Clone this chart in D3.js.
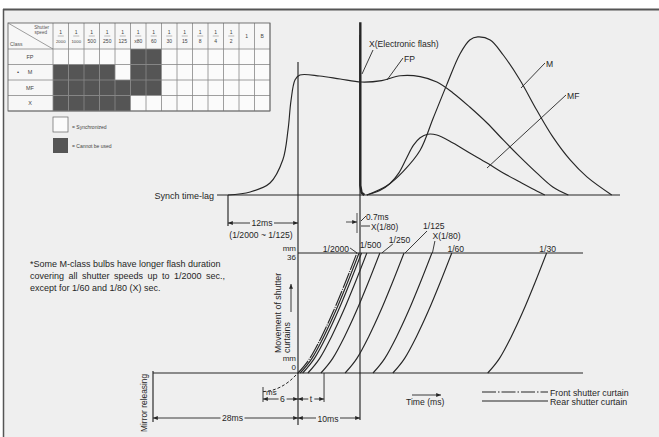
<!DOCTYPE html>
<html>
<head>
<meta charset="utf-8">
<script src="https://cdn.jsdelivr.net/npm/d3@7"></script>
<style>
html, body { margin: 0; padding: 0; background: #fff; }
svg { display: block; font-family: "Liberation Sans", Arial, Helvetica, sans-serif; }
</style>
</head>
<body>
<div id="chart"></div>
<script>
const width = 659;
const height = 437;
const ink = "#262626";
const paper = "#efefef";

// table: shutter speeds x flash class
const speeds = ["2000", "1000", "500", "250", "125", "X80", "60", "30", "15", "8", "4", "2", "1", "B"];
const classes = ["FP", "M", "MF", "X"];
const blocked = [
    [0, 0, 0, 0, 0, 1, 1, 0, 0, 0, 0, 0, 0, 0],
    [1, 1, 1, 1, 0, 1, 1, 0, 0, 0, 0, 0, 0, 0],
    [1, 1, 1, 1, 1, 1, 1, 0, 0, 0, 0, 0, 0, 0],
    [1, 1, 1, 1, 1, 0, 0, 0, 0, 0, 0, 0, 0, 0]
];

// flash curves: [time ms, relative intensity]
const fpCurve = [[-12, 0], [-8.2, 1.9], [-4.8, 7.5], [-2.6, 22], [-1.7, 41], [-1.2, 59], [-0.5, 72], [0.3, 75],
    [3.5, 74.4], [6.8, 72.5], [10.2, 70.6], [13.5, 71.5], [16.5, 74.5], [19.7, 74], [22.4, 70.6], [25, 63.8],
    [27.7, 55], [30.5, 45], [33.1, 34.4], [35.8, 23.8], [38.5, 13.8], [41.1, 5], [43.6, 0]];
const mCurve = [[11.1, 0], [14.4, 6], [16.9, 14.5], [19.7, 28], [21.8, 48], [24, 69], [26.1, 88], [27.7, 96.9],
    [29, 98.8], [31, 96.9], [33.1, 87.5], [35.8, 71.9], [38.5, 53.1], [41.1, 36.3], [43.9, 21.9], [46.6, 11.3], [50.6, 0]];
const mfCurve = [[11.1, 0], [13.2, 2.8], [14.8, 7], [16.3, 14], [17.5, 23], [18.6, 31], [19.7, 35.8], [20.9, 38],
    [22.4, 37.5], [25, 32.5], [27.7, 26.3], [30.5, 20], [33.1, 13.8], [35.8, 8.1], [38.5, 2.5], [39.8, 0]];
const xCurve = [[10.05, 108], [10.05, 6], [10.25, 1.5], [10.7, 0]];

// curtain travel: start of each curtain (ms) and travel profile
const curtainLabels = ["Front", "1/2000", "1/1000", "1/500", "1/250", "1/125", "X(1/80)", "1/60", "1/30"];
const curtainStart = [0, 0.35, 0.75, 1.6, 3.7, 7.6, 12.1, 15.3, 30.6];
const travelMs = [0, 1.9, 3.8, 5.7, 7.6, 9.5];
const travelMm = [0, 4.4, 10.9, 18.5, 27, 36];
const mirrorCurve = [[-6, -5.6], [-4.5, -5.2], [-3, -4.2], [-1.5, -2.5], [0, 0]];
const tMarker = 4.2;

const svg = d3.select("#chart")
    .append("svg")
    .attr("width", width)
    .attr("height", height);

const defs = svg.append("defs");
defs.append("marker")
    .attr("id", "arr")
    .attr("viewBox", "0 0 6 5")
    .attr("refX", 6).attr("refY", 2.5)
    .attr("markerWidth", 5).attr("markerHeight", 4)
    .attr("markerUnits", "userSpaceOnUse")
    .attr("orient", "auto-start-reverse")
    .append("path").attr("d", "M0,0L6,2.5L0,5z").attr("fill", ink);

// paper + scan frame
svg.append("rect").attr("x", 4).attr("y", 10).attr("width", width - 4).attr("height", height - 10).attr("fill", paper);
svg.append("line").attr("x1", 3).attr("x2", width).attr("y1", 9.5).attr("y2", 9.5).attr("stroke", "#555").attr("stroke-width", 2);
svg.append("line").attr("x1", 3.5).attr("x2", 3.5).attr("y1", 9).attr("y2", height).attr("stroke", "#555").attr("stroke-width", 1.5);

// scales (schematic time axis: left part compressed)
const x = d3.scaleLinear().domain([-28, -12, 0, 10]).range([153, 228, 298, 360]);
const yFlash = d3.scaleLinear().domain([0, 100]).range([195, 35]);
const yMm = d3.scaleLinear().domain([0, 36]).range([373, 253]);

const g = svg.append("g").attr("stroke", ink).attr("fill", "none").attr("stroke-width", 1.15);

function hline(x1, x2, y, w) {
    return g.append("line").attr("x1", x1).attr("x2", x2).attr("y1", y).attr("y2", y).attr("stroke-width", w || 1.15);
}
function vline(xx, y1, y2, w) {
    return g.append("line").attr("x1", xx).attr("x2", xx).attr("y1", y1).attr("y2", y2).attr("stroke-width", w || 1.15);
}
function seg(x1, y1, x2, y2) {
    g.append("line").attr("x1", x1).attr("y1", y1).attr("x2", x2).attr("y2", y2).attr("stroke-width", 0.9);
}
function dim(x1, x2, y) {
    g.append("line").attr("x1", x1).attr("x2", x2).attr("y1", y).attr("y2", y).attr("stroke-width", 0.9)
        .attr("marker-start", "url(#arr)").attr("marker-end", "url(#arr)");
}
function txt(s, tx, ty, size, anchor, gap) {
    const t = svg.append("text").attr("x", tx).attr("y", ty)
        .attr("font-size", size).attr("fill", ink)
        .attr("text-anchor", anchor || "start").text(s);
    if (gap) {
        const b = t.node().getBBox();
        svg.insert("rect", () => t.node())
            .attr("x", b.x - 1.5).attr("y", b.y + 1).attr("width", b.width + 3).attr("height", b.height - 2)
            .attr("fill", paper);
    }
    return t;
}

// ---------- table ----------
const tx0 = 8, colX0 = 53, colW = 15.5, ty0 = 23, headH = 26, rowH = 15.5;
const tab = svg.append("g");
tab.append("rect").attr("x", tx0).attr("y", ty0).attr("width", colX0 - tx0).attr("height", headH + 4 * rowH).attr("fill", "#f7f7f7");
tab.append("rect").attr("x", colX0).attr("y", ty0).attr("width", speeds.length * colW).attr("height", headH).attr("fill", "#f7f7f7");
blocked.forEach((row, r) => {
    row.forEach((b, c) => {
        tab.append("rect")
            .attr("x", colX0 + c * colW).attr("y", ty0 + headH + r * rowH)
            .attr("width", colW).attr("height", rowH)
            .attr("fill", b ? "#555" : "#fbfbfb");
    });
});
const tRight = colX0 + speeds.length * colW;
const tBottom = ty0 + headH + classes.length * rowH;
for (let c = 0; c <= speeds.length; c++) {
    tab.append("line").attr("x1", colX0 + c * colW).attr("x2", colX0 + c * colW)
        .attr("y1", ty0).attr("y2", tBottom).attr("stroke", "#888").attr("stroke-width", 0.8);
}
for (let r = 0; r <= classes.length; r++) {
    tab.append("line").attr("x1", tx0).attr("x2", tRight)
        .attr("y1", ty0 + headH + r * rowH).attr("y2", ty0 + headH + r * rowH)
        .attr("stroke", "#888").attr("stroke-width", 0.8);
}
tab.append("rect").attr("x", tx0).attr("y", ty0).attr("width", tRight - tx0).attr("height", tBottom - ty0)
    .attr("fill", "none").attr("stroke", "#666").attr("stroke-width", 0.9);
tab.append("line").attr("x1", tx0).attr("y1", ty0).attr("x2", colX0).attr("y2", ty0 + headH)
    .attr("stroke", "#777").attr("stroke-width", 0.7);
txt("Shutter", 49, 29, 4.6, "end").attr("fill", "#555");
txt("speed", 47, 34, 4.6, "end").attr("fill", "#555");
txt("Class", 10, 46, 5, "start").attr("fill", "#555");
speeds.forEach((s, c) => {
    const cx = colX0 + c * colW + colW / 2;
    if (s === "1" || s === "B") {
        txt(s, cx, 38, 5, "middle").attr("fill", "#444");
    } else {
        txt("1", cx, 34, 5, "middle").attr("fill", "#444");
        tab.append("line").attr("x1", cx - 3).attr("x2", cx + 3).attr("y1", 36).attr("y2", 36)
            .attr("stroke", "#777").attr("stroke-width", 0.5);
        txt(s === "X80" ? "x80" : s, cx, 42.5, s.length > 3 ? 4.3 : 5, "middle").attr("fill", "#444");
    }
});
classes.forEach((cl, r) => {
    const cy = ty0 + headH + r * rowH + rowH / 2 + 2;
    txt(cl, 30, cy, 5.5, "middle").attr("fill", "#444");
    if (cl === "M") txt("•", 18, cy, 6, "middle").attr("fill", "#444");
});
// table legend
tab.append("rect").attr("x", 53).attr("y", 117).attr("width", 15).attr("height", 15)
    .attr("fill", "#fbfbfb").attr("stroke", "#666").attr("stroke-width", 0.7);
tab.append("rect").attr("x", 53).attr("y", 138).attr("width", 15).attr("height", 15).attr("fill", "#555");
txt("= Synchronized", 72, 128.5, 5, "start").attr("fill", "#444");
txt("= Cannot be used", 72, 148, 5, "start").attr("fill", "#444");

// ---------- flash curves ----------
const flashLine = d3.line().x(d => x(d[0])).y(d => yFlash(d[1])).curve(d3.curveCatmullRom.alpha(0.5));
hline(217, 620, yFlash(0));
g.append("path").attr("d", flashLine(fpCurve));
g.append("path").attr("d", flashLine(mCurve));
g.append("path").attr("d", flashLine(mfCurve));
g.append("path").attr("d", d3.line().x(d => x(d[0])).y(d => yFlash(d[1]))(xCurve)).attr("stroke-width", 2.4);

// long guide verticals
vline(x(0), 62, 425);
vline(x(10), yFlash(100), 420);
vline(x(-12), yFlash(0), 226);

txt("Synch time-lag", 214, 198.5, 9, "end");
txt("X(Electronic flash)", 369, 47, 8.6, "start");
seg(362, 74, 373, 50);
txt("FP", 404, 62, 8.6, "start");
seg(387, 80, 403, 58);
txt("M", 546, 67, 8.6, "start");
seg(521, 88, 545, 63);
txt("MF", 567, 99, 8.6, "start");
seg(487, 168, 566, 95);

// 12ms dimension
dim(x(-12), x(0), 223);
txt("12ms", (x(-12) + x(0)) / 2 - 1, 226, 8.6, "middle", true);
txt("(1/2000 ~ 1/125)", (x(-12) + x(0)) / 2 - 2, 237.5, 8.6, "middle");

// 0.7ms annotation
vline(357, 213, 233, 0.8);
g.append("line").attr("x1", 346).attr("x2", 357).attr("y1", 222).attr("y2", 222).attr("stroke-width", 0.8)
    .attr("marker-end", "url(#arr)");
seg(361, 221, 366, 216);
seg(361, 226, 370, 226);
txt("0.7ms", 366, 219.5, 8.3, "start");
txt("X(1/80)", 371, 229.5, 8.3, "start");

// ---------- curtain travel ----------
hline(x(0), 583, yMm(36));
hline(x(-28), 583, yMm(0));
const curtainLine = d3.line().x(d => x(d[0])).y(d => yMm(d[1])).curve(d3.curveMonotoneX);
curtainStart.forEach((s, i) => {
    const pts = travelMs.map((t, k) => [s + t, travelMm[k]]);
    const p = g.append("path").attr("d", curtainLine(pts)).attr("stroke-width", 1.15);
    if (curtainLabels[i] === "Front") p.attr("stroke-dasharray", "16,1.2,1,1.2");
});
g.append("path").attr("d", curtainLine(mirrorCurve)).attr("stroke-dasharray", "3,2").attr("stroke-width", 1);

// curtain labels
const topX = i => x(curtainStart[i] + travelMs[travelMs.length - 1]);
txt("1/2000", topX(1) - 10, 251.5, 8.6, "end");
seg(topX(1) - 9, 248, topX(1) - 2, 253);
txt("1/500", topX(3) - 7, 247.5, 8.6, "start");
txt("1/250", topX(4) + 9, 243, 8.6, "start");
seg(topX(4) + 2, 253, topX(4) + 13, 244);
txt("1/125", topX(5) + 19, 229, 8.6, "start");
seg(topX(5) + 1, 253, topX(5) + 23, 231);
txt("X(1/80)", topX(6) + 0.5, 239, 8.6, "start");
seg(topX(6) + 0.5, 253, topX(6) + 3, 241);
txt("1/60", topX(7) + 4, 252, 8.6, "middle");
txt("1/30", topX(8) + 1, 252, 8.6, "middle");

// y axis labels
txt("mm", 296, 251, 8, "end");
txt("36", 296, 260, 8, "end");
txt("mm", 296, 361, 8, "end");
txt("0", 296, 370, 8, "end");
svg.append("text").attr("transform", "translate(281,353) rotate(-90)")
    .attr("font-size", 8.8).attr("fill", ink).text("Movement of shutter");
svg.append("text").attr("transform", "translate(290,353) rotate(-90)")
    .attr("font-size", 8.8).attr("fill", ink).text("curtains");
g.append("line").attr("x1", 291).attr("x2", 291).attr("y1", 312).attr("y2", 284).attr("stroke-width", 0.9)
    .attr("marker-end", "url(#arr)");
svg.append("text").attr("transform", "translate(147,432) rotate(-90)")
    .attr("font-size", 8.4).attr("fill", ink).text("Mirror releasing");

// bottom dimensions
vline(x(-28), 371, 422);
vline(x(tMarker), yMm(0), 402, 0.9);
vline(x(-6), 387, 402, 0.9);
dim(x(-28), x(0), 418);
txt("28ms", (x(-28) + x(0)) / 2 + 7, 421, 8.6, "middle", true);
dim(x(0), x(10), 418);
txt("10ms", (x(0) + x(10)) / 2 - 1, 421.5, 8.6, "middle", true);
dim(x(-6), x(0), 399);
txt("6", (x(-6) + x(0)) / 2 + 2, 402, 8.6, "middle", true);
txt("ms", x(-6) + 3, 394.5, 8, "start");
dim(x(0), x(tMarker), 399);
txt("t", (x(0) + x(tMarker)) / 2, 402, 8.6, "middle", true);

// time arrow + legend
g.append("line").attr("x1", 412).attr("x2", 441).attr("y1", 395).attr("y2", 395).attr("stroke-width", 0.9)
    .attr("marker-end", "url(#arr)");
txt("Time (ms)", 406, 405, 8.6, "start");
hline(482, 548, 392).attr("stroke-dasharray", "14,2,1.5,2");
hline(482, 548, 401);
txt("Front shutter curtain", 550, 395.5, 8.8, "start");
txt("Rear shutter curtain", 550, 405, 8.8, "start");

// footnote
txt("*Some M-class bulbs have longer flash duration", 30, 266.5, 9, "start");
txt("covering all shutter speeds up to 1/2000 sec.,", 30, 279, 9, "start").attr("word-spacing", 2);
txt("except for 1/60 and 1/80 (X) sec.", 30, 291, 9, "start");
</script>
</body>
</html>
